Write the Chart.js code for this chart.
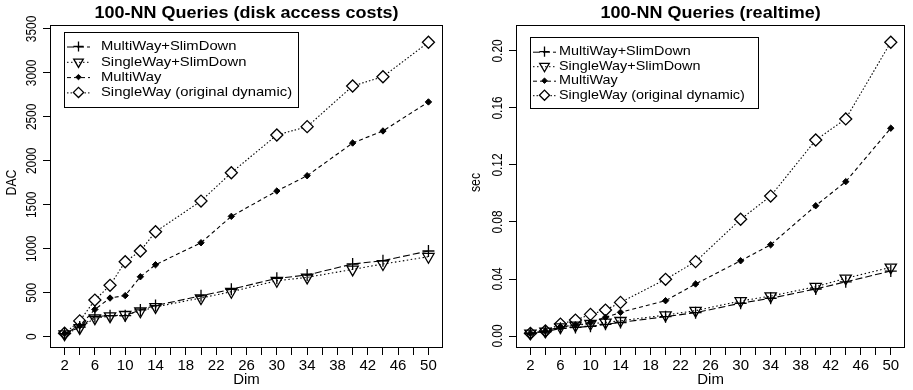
<!DOCTYPE html>
<html>
<head>
<meta charset="utf-8">
<script src="https://cdn.jsdelivr.net/npm/chart.js@4.4.1/dist/chart.umd.min.js"></script>
<style>
  html, body { margin: 0; padding: 0; background: #fff; }
  #wrap { position: relative; width: 913px; height: 390px; background: #fff; }
  canvas { position: absolute; top: 0; }
</style>
</head>
<body>
<div id="wrap">
  <canvas id="c1" width="456" height="390" style="left:0px"></canvas>
  <canvas id="c2" width="457" height="390" style="left:456px"></canvas>
</div>
<script>
// ---------- DATA ----------
const dims = [2, 4, 6, 8, 10, 12, 14, 20, 24, 30, 34, 40, 44, 50];
const seriesNames = ['MultiWay+SlimDown', 'SingleWay+SlimDown', 'MultiWay', 'SingleWay (original dynamic)'];

// Left: disk access costs (DAC)
const dacMultiSlim  = [35, 110, 230, 240, 240, 305, 355, 465, 540, 664, 702, 827, 865, 975];
const dacSingleSlim = [30, 100, 212, 235, 250, 290, 340, 440, 512, 637, 675, 766, 827, 910];
const dacMulti      = [35, 125, 311, 440, 468, 682, 819, 1069, 1369, 1657, 1831, 2203, 2340, 2670];
const dacSingle     = [40, 180, 417, 585, 853, 975, 1194, 1543, 1865, 2294, 2389, 2851, 2957, 3349];

// Right: realtime (sec)
const secMultiSlim  = [0.0017, 0.0030, 0.0054, 0.0060, 0.0068, 0.0082, 0.0095, 0.0136, 0.0164, 0.0230, 0.0265, 0.0330, 0.0380, 0.0456];
const secSingleSlim = [0.0019, 0.0033, 0.0063, 0.0075, 0.0086, 0.0096, 0.0107, 0.0147, 0.0178, 0.0246, 0.0280, 0.0346, 0.0405, 0.0482];
const secMulti      = [0.0020, 0.0035, 0.0065, 0.0077, 0.0093, 0.0131, 0.0166, 0.0248, 0.0365, 0.0528, 0.0640, 0.0914, 0.1083, 0.1458];
const secSingle     = [0.0019, 0.0035, 0.0084, 0.0112, 0.0152, 0.0182, 0.0236, 0.0398, 0.0522, 0.0819, 0.0982, 0.1375, 0.1523, 0.2061];

// Ticks
const xTickValues = [2,4,6,8,10,12,14,16,18,20,22,24,26,28,30,32,34,36,38,40,42,44,46,48,50];
const xTickLabels = ['2','6','10','14','18','22','26','30','34','38','42','46','50'];
const dacTickValues = [0, 500, 1000, 1500, 2000, 2500, 3000, 3500];
const dacTickLabels = ['0', '500', '1000', '1500', '2000', '2500', '3000', '3500'];
const secTickValues = [0, 0.04, 0.08, 0.12, 0.16, 0.20];
const secTickLabels = ['0.00', '0.04', '0.08', '0.12', '0.16', '0.20'];

// ---------- STYLE ----------
const FONT = '"Liberation Sans", Arial, Helvetica, sans-serif';
const SQ_H = 0.92; // vertical squish of horizontal text
const SQ_V = 0.82; // squish along the length of rotated text

const styles = [
  { borderDash: [7, 3], pointStyle: 'cross',    radius: 6,   rotation: 0,   fill: 'rgba(0,0,0,0)', pbw: 1.3 },
  { borderDash: [1.5, 2.5], pointStyle: 'triangle', radius: 6.5, rotation: 180, fill: 'rgba(0,0,0,0)', pbw: 1.3 },
  { borderDash: [4, 3], pointStyle: 'rectRot',  radius: 3.2, rotation: 0,   fill: '#000', pbw: 1 },
  { borderDash: [1.5, 2], pointStyle: 'rectRot',  radius: 6,   rotation: 0,   fill: '#fff', pbw: 1.3 }
];

function makeDatasets(arrs) {
  return arrs.map((arr, i) => {
    const s = styles[i];
    return {
      label: seriesNames[i],
      data: dims.map((d, k) => ({ x: d, y: arr[k] })),
      borderColor: '#000',
      borderWidth: 1.1,
      borderDash: s.borderDash,
      pointStyle: s.pointStyle,
      pointRadius: s.radius,
      pointRotation: s.rotation,
      pointBorderColor: '#000',
      pointBackgroundColor: s.fill,
      pointBorderWidth: s.pbw,
      fill: false,
      tension: 0
    };
  });
}

function drawText(ctx, s, x, y, font, rotate, align) {
  ctx.save();
  ctx.translate(x, y);
  ctx.scale(1, rotate ? SQ_V : SQ_H);
  if (rotate) ctx.rotate(-Math.PI / 2);
  ctx.font = font;
  ctx.textAlign = align || 'center';
  ctx.textBaseline = 'middle';
  ctx.fillStyle = '#000';
  ctx.fillText(s, 0, 0);
  ctx.restore();
}

function decorPlugin(p) {
  return {
    id: 'decor',
    afterDraw(chart) {
      const ctx = chart.ctx, a = chart.chartArea, xs = chart.scales.x, ys = chart.scales.y;
      ctx.save();
      // plot box
      ctx.strokeStyle = '#000';
      ctx.lineWidth = 1;
      ctx.setLineDash([]);
      ctx.strokeRect(Math.round(a.left) + 0.5, Math.round(a.top) + 0.5,
                     Math.round(a.right - a.left) - 1, Math.round(a.bottom - a.top) - 1);
      // title
      drawText(ctx, p.title, (a.left + a.right) / 2, 13.5, 'bold 18px ' + FONT);
      // x tick labels
      xTickLabels.forEach(l => {
        drawText(ctx, l, xs.getPixelForValue(parseFloat(l)), 366, '15px ' + FONT);
      });
      // x title
      drawText(ctx, 'Dim', (a.left + a.right) / 2, 380, '15px ' + FONT);
      // y tick labels
      p.yTickValues.forEach((v, i) => {
        drawText(ctx, p.yTickLabels[i], p.yLabelX, ys.getPixelForValue(v), '14.5px ' + FONT, true);
      });
      // y title
      drawText(ctx, p.yTitle, p.yTitleX, (a.top + a.bottom) / 2 - 4, '15px ' + FONT, true);
      // legend
      const L = p.legend;
      ctx.strokeStyle = '#000';
      ctx.lineWidth = 1;
      ctx.strokeRect(L.x + 0.5, L.y + 0.5, L.w, L.h);
      chart.data.datasets.forEach((ds, i) => {
        const ry = L.row0 + i * L.rowH;
        const s = styles[i];
        ctx.save();
        ctx.strokeStyle = '#000';
        ctx.lineWidth = 1;
        ctx.setLineDash(s.borderDash);
        ctx.beginPath();
        ctx.moveTo(L.x + 3, ry + 0.5);
        ctx.lineTo(L.x + 26, ry + 0.5);
        ctx.stroke();
        ctx.restore();
        ctx.save();
        ctx.setLineDash([]);
        ctx.strokeStyle = '#000';
        ctx.fillStyle = s.fill;
        ctx.lineWidth = s.pbw;
        Chart.helpers.drawPoint(ctx, { pointStyle: s.pointStyle, radius: s.radius * 0.85, rotation: s.rotation, borderWidth: s.pbw }, L.x + 14.5, ry);
        ctx.restore();
        drawText(ctx, ds.label, L.x + L.textDx, ry, L.font + 'px ' + FONT, false, 'left');
      });
      ctx.restore();
    }
  };
}

function makeChart(id, arrs, p) {
  return new Chart(document.getElementById(id), {
    type: 'line',
    data: { datasets: makeDatasets(arrs) },
    options: {
      responsive: false,
      animation: false,
      devicePixelRatio: 1,
      layout: { padding: { left: 0, right: p.padRight, top: 25, bottom: 0 } },
      plugins: { legend: { display: false }, title: { display: false }, tooltip: { enabled: false } },
      scales: {
        x: {
          type: 'linear',
          min: 0.08, max: 51.92,
          afterBuildTicks: s => { s.ticks = xTickValues.map(v => ({ value: v })); },
          afterFit: s => { s.height = 42; },
          ticks: { display: false },
          grid: { drawOnChartArea: false, drawTicks: true, tickLength: 7, color: '#000', lineWidth: 1 },
          border: { display: false }
        },
        y: {
          type: 'linear',
          min: p.yMin, max: p.yMax,
          afterBuildTicks: s => { s.ticks = p.yTickValues.map(v => ({ value: v })); },
          afterFit: s => { s.width = p.yWidth; },
          ticks: { display: false },
          grid: { drawOnChartArea: false, drawTicks: true, tickLength: 7, color: '#000', lineWidth: 1 },
          border: { display: false }
        }
      }
    },
    plugins: [decorPlugin(p)]
  });
}

makeChart('c1', [dacMultiSlim, dacSingleSlim, dacMulti, dacSingle], {
  title: '100-NN Queries (disk access costs)',
  yTitle: 'DAC',
  yMin: -128, yMax: 3545,
  yTickValues: dacTickValues, yTickLabels: dacTickLabels,
  yWidth: 50, padRight: 13,
  yLabelX: 32, yTitleX: 12,
  legend: { x: 64, y: 32, w: 234, h: 75, row0: 46.5, rowH: 15.3, textDx: 37, font: 14.8 }
});

makeChart('c2', [secMultiSlim, secSingleSlim, secMulti, secSingle], {
  title: '100-NN Queries (realtime)',
  yTitle: 'sec',
  yMin: -0.0084, yMax: 0.2182,
  yTickValues: secTickValues, yTickLabels: secTickLabels,
  yWidth: 60, padRight: 2,
  yLabelX: 42, yTitleX: 20,
  legend: { x: 74, y: 37, w: 228, h: 71, row0: 51.7, rowH: 14.5, textDx: 29, font: 14.4 }
});
</script>
</body>
</html>
